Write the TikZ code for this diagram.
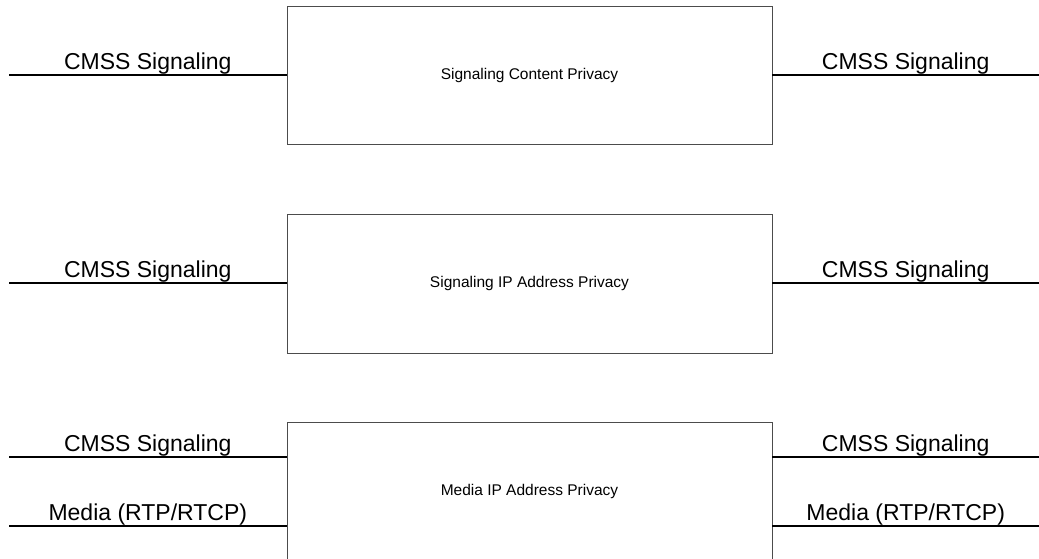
\documentclass[tikz,border=0pt]{standalone}
\usepackage{fontspec}
\setmainfont{Liberation Sans}
\usetikzlibrary{positioning}
\tikzstyle{privbox}=[draw=black!70, line width=0.8pt, minimum width=485pt, minimum height=138pt, inner sep=0pt, font=\fontsize{15.5}{18}\selectfont]
\tikzstyle{sigline}=[black, line width=1.1pt]
\tikzstyle{siglabel}=[above, inner sep=0.6pt, font=\fontsize{23}{27}\selectfont]
\newcommand{\sigpair}[3]{% Syntax: {box name}{y}{label}
  \coordinate (#1L#2) at (9,#2);
  \coordinate (#1R#2) at (1039,#2);
  \draw[sigline] (#1L#2) -- (#1.west |- #1L#2) node[siglabel, midway] {#3};
  \draw[sigline] (#1.east |- #1R#2) -- (#1R#2) node[siglabel, midway] {#3};
}

\begin{document}
\begin{tikzpicture}[x=1pt, y=-1pt]
	\useasboundingbox (0,0) rectangle (1039,559);
	\node[privbox] (scp) at (529.5,75) {Signaling Content Privacy};
	\node[privbox, minimum height=139pt] (sip) at (529.5,283.5) {Signaling IP Address Privacy};
	\node[privbox] (mip) at (529.5,491) {Media IP Address Privacy};
	\sigpair{scp}{75}{CMSS Signaling}
	\sigpair{sip}{283}{CMSS Signaling}
	\sigpair{mip}{457}{CMSS Signaling}
	\sigpair{mip}{526}{Media (RTP/RTCP)}
	%\draw[red] (0,0) grid[step=50] (1039,559); % debug
\end{tikzpicture}
\end{document}
